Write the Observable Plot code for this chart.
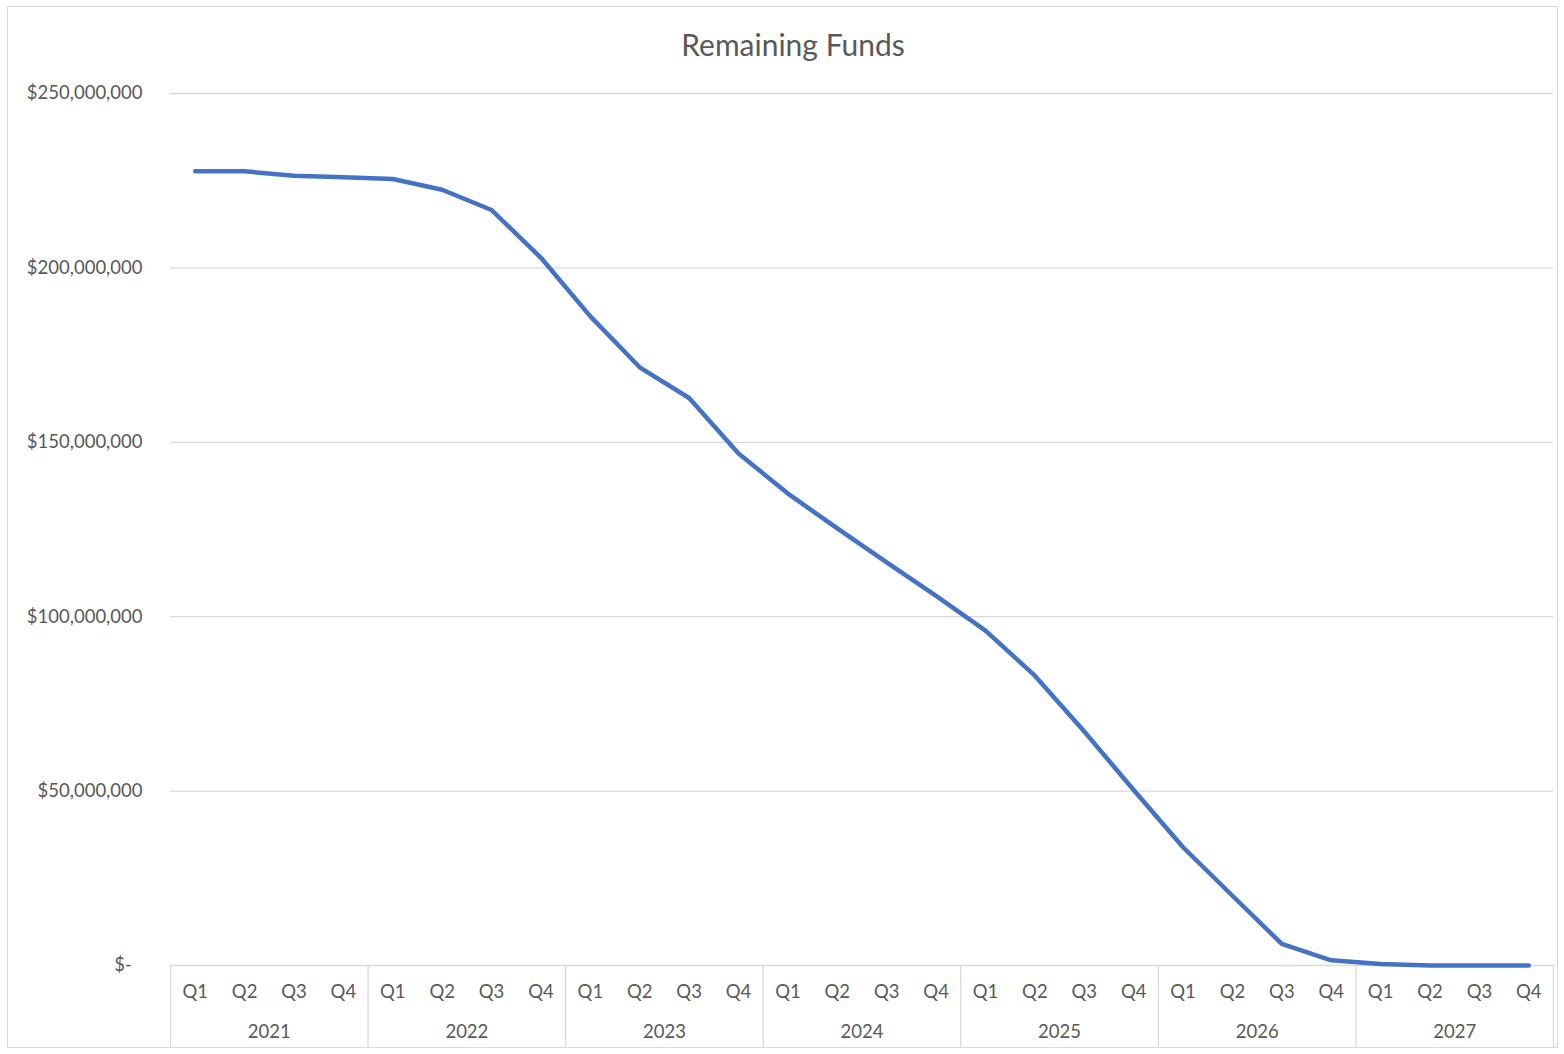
<!DOCTYPE html>
<html>
<head>
<meta charset="utf-8">
<script src="https://cdn.jsdelivr.net/npm/d3@7"></script>
<script src="https://cdn.jsdelivr.net/npm/@observablehq/plot@0.6"></script>
<style>
  html, body { margin: 0; padding: 0; background: #fff; }
  #wrap { position: relative; width: 1564px; height: 1054px; overflow: hidden; font-family: Lato, "Open Sans", sans-serif; }
  #frame { position: absolute; left: 7px; top: 6px; width: 1549px; height: 1040px; border: 1px solid #d9d9d9; pointer-events: none; }
  #title { position: absolute; top: 26px; left: 0; width: 1564px; padding-left: 22px; box-sizing: border-box; text-align: center; font-size: 30px; color: #595959; }
  #chart { position: absolute; left: 0; top: 70px; }
</style>
</head>
<body>
<div id="wrap">
  <div id="title">Remaining Funds</div>
  <div id="chart"></div>
  <div id="frame"></div>
</div>
<script>
const years = [2021, 2022, 2023, 2024, 2025, 2026, 2027];
const quarters = ["Q1", "Q2", "Q3", "Q4"];
const remaining = [
  227.7e6, 227.7e6, 226.4e6, 226.0e6,
  225.5e6, 222.4e6, 216.6e6, 202.9e6,
  186.1e6, 171.5e6, 162.7e6, 146.8e6,
  135.3e6, 125.3e6, 115.6e6, 106.0e6,
  96.0e6, 83.1e6, 67.1e6, 50.3e6,
  33.9e6, 20.0e6, 6.2e6, 1.5e6,
  0.4e6, 0, 0, 0
];
const yTicks = [0, 50e6, 100e6, 150e6, 200e6, 250e6];

const periods = [];
years.forEach((yr, yi) => quarters.forEach((q, qi) => {
  const i = yi * 4 + qi;
  periods.push({i, year: yr, q, value: remaining[i]});
}));
const yearCenters = years.map((yr, yi) => ({year: String(yr), c: yi * 4 + 1.5}));
const boundaries = years.map((_, yi) => yi * 4 - 0.5).concat([years.length * 4 - 0.5]);

const fmt = d => d === 0 ? "$-\u2007" : "$" + d3.format(",")(d);

const chart = Plot.plot({
  width: 1564,
  height: 984,
  marginTop: 23,
  marginBottom: 89,
  marginLeft: 170,
  marginRight: 11,
  style: {fontFamily: "Lato, 'Open Sans', sans-serif", background: "transparent"},
  x: {type: "linear", domain: [-0.5, periods.length - 0.5], axis: null},
  y: {domain: [0, 250e6], axis: null},
  marks: [
    Plot.gridY(yTicks, {stroke: "#d9d9d9", strokeOpacity: 1, strokeWidth: 1.3}),
    Plot.axisY(yTicks, {tickSize: 0, tickPadding: 28, tickFormat: fmt, fontSize: 18.5, fill: "#595959", anchor: "left", label: null}),
    Plot.axisX(boundaries, {tickSize: 82, tickFormat: () => "", stroke: "#d9d9d9", strokeOpacity: 1, strokeWidth: 1.3, anchor: "bottom", label: null}),
    Plot.text(periods, {x: "i", text: "q", frameAnchor: "bottom", dy: 32, fontSize: 18.5, fill: "#595959"}),
    Plot.text(yearCenters, {x: "c", text: "year", frameAnchor: "bottom", dy: 72, fontSize: 18.5, fill: "#595959"}),
    Plot.line(periods, {x: "i", y: "value", stroke: "#4472C4", strokeWidth: 4.5, strokeLinecap: "round", strokeLinejoin: "round"})
  ]
});
document.getElementById("chart").appendChild(chart);
</script>
</body>
</html>
